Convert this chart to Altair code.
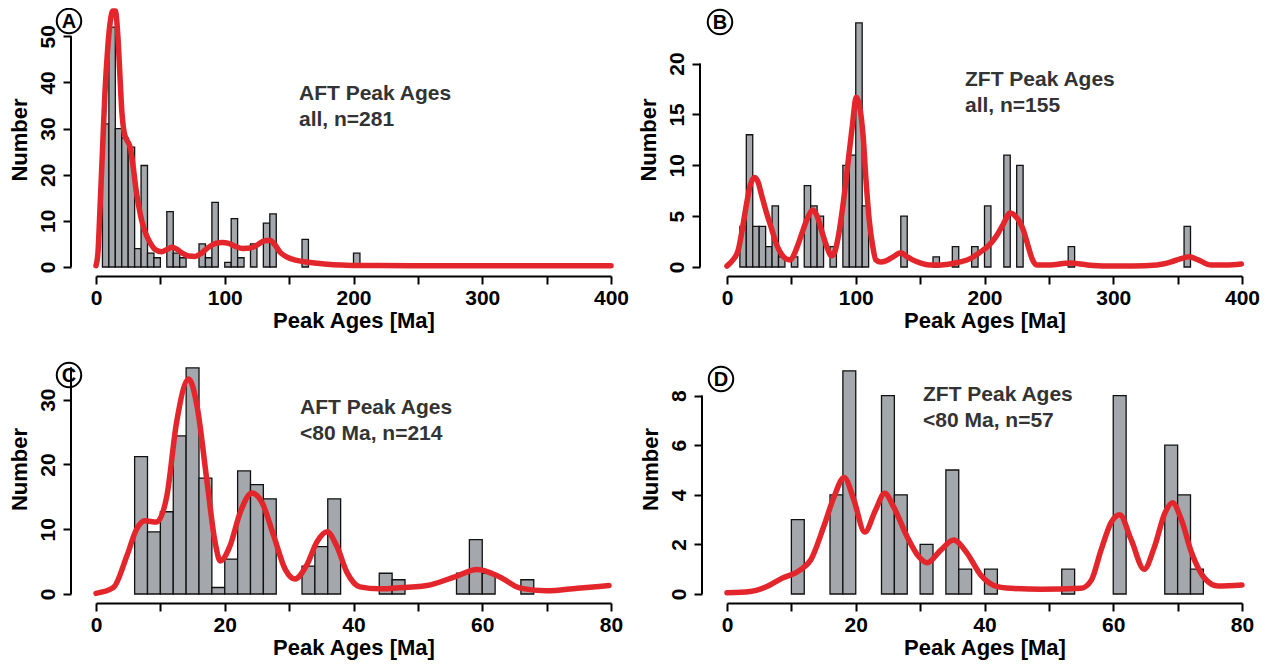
import altair as alt
import pandas as pd

# ---------------- data ----------------
# Panel A: AFT peak ages, all (bin width 5 Ma)
A_bin = [5, 10, 15, 20, 25, 30, 35, 40, 45, 55, 60, 65, 80, 85, 90, 100, 105, 110, 120, 130, 135, 160, 200]
A_cnt = [31, 52, 30, 28, 26, 4, 22, 3, 2, 12, 3, 2, 5, 2, 14, 1, 10.5, 2, 5, 9.5, 11.5, 6, 3]
A_cx = [0, 1.5, 3, 5, 7, 9, 11, 13, 15, 17, 18.5, 20, 22, 24, 26.5, 29, 31, 33, 36, 39, 42, 46, 51, 55, 59, 63,
        67, 72, 77, 82, 87, 93, 98, 103, 108, 114, 120, 126, 131, 135, 139, 143, 148, 155, 163, 172, 182, 195,
        220, 260, 300, 350, 400]
A_cy = [0.3, 3, 12, 25, 38, 47, 53, 55.5, 55.5, 50, 42, 34, 29, 27.5, 26, 21.5, 17, 13.5, 9.5, 7, 5.3, 3.8, 3.3,
        3.8, 4.3, 3.8, 3, 2.4, 2.3, 3, 4.2, 5.1, 5.3, 5.1, 4.5, 4, 4.1, 4.9, 5.7, 5.8, 4.8, 3.2, 2.2, 1.5, 1.1,
        0.8, 0.55, 0.4, 0.3, 0.25, 0.25, 0.25, 0.25]

# Panel B: ZFT peak ages, all (bin width 5 Ma)
B_bin = [10, 15, 20, 25, 30, 35, 40, 50, 60, 65, 70, 80, 90, 95, 100, 105, 135, 160, 175, 190, 200, 215, 225, 265, 355]
B_cnt = [4, 13, 4, 4, 2, 6, 1, 1, 8, 6, 5, 2, 10, 11, 24, 6, 5, 1, 2, 2, 6, 11, 10, 2, 4]
B_cx = [0, 4, 8.8, 12, 15.3, 18, 21.3, 24, 27, 31, 34.8, 38.5, 42.7, 46, 49.2, 52, 55.7, 59, 62.2, 66.9, 70, 73.9,
        77.5, 81.2, 84, 87, 90, 93.4, 97, 100.5, 103, 105.7, 108, 110.4, 113, 115.6, 119, 123.4, 129, 135, 140,
        144.2, 150, 157, 165, 173, 181, 188.5, 196, 204, 210, 214.5, 219.8, 224, 230, 234, 237, 240.6, 250,
        266.6, 280, 295, 315, 334, 345, 352, 359, 366, 376, 388, 399.5]
B_cy = [0.1, 0.6, 1.7, 3.8, 6.3, 8, 8.8, 8.4, 7, 5.2, 3.7, 2.2, 1.2, 0.8, 0.7, 1.2, 2.4, 3.6, 4.7, 5.6, 5, 3.4,
        2, 1.1, 1.6, 3.4, 6, 9.6, 13.5, 16.7, 15.8, 12.9, 8.5, 4.7, 2.2, 0.7, 0.5, 0.6, 1, 1.4, 1, 0.7, 0.4,
        0.2, 0.2, 0.3, 0.5, 0.8, 1.4, 2.2, 3.2, 4.2, 5.3, 5, 3.7, 2, 0.8, 0.2, 0.2, 0.4, 0.2, 0.1, 0.1, 0.2,
        0.5, 0.8, 1, 0.7, 0.2, 0.2, 0.3]

# Panel C: AFT peak ages < 80 Ma (bin width 2 Ma)
C_bin = [6, 8, 10, 12, 14, 16, 18, 20, 22, 24, 26, 32, 34, 36, 44, 46, 56, 58, 60, 66]
C_cnt = [21.2, 9.6, 12.7, 24.4, 34.9, 17.9, 1, 5.4, 19, 16.9, 14.7, 4.3, 7.3, 14.7, 3.2, 2.2, 3.2, 8.4, 3.2, 2.2]
C_cx = [0, 2.7, 4.8, 6.3, 7.6, 9.4, 11, 12.5, 14.4, 15.7, 17.2, 18.5, 19.3, 20.8, 22.4, 24.2, 25.8, 27.6, 29.4,
        30.9, 32.7, 34.3, 35.9, 37.4, 39, 41, 44, 46.2, 51.4, 55.6, 59.2, 62.8, 65.9, 70, 74.8, 79.7]
C_cy = [0.1, 1, 5.9, 10, 11.3, 11.1, 15.1, 26.4, 33.2, 29, 17.7, 8, 5.1, 7.4, 12.6, 15.6, 14.1, 9, 3.8, 2.3, 4.4,
        8, 9.6, 7.4, 3.3, 1.1, 0.8, 0.9, 1.3, 2.6, 3.8, 2.6, 0.9, 0.5, 0.9, 1.3]

# Panel D: ZFT peak ages < 80 Ma (bin width 2 Ma)
D_bin = [10, 16, 18, 24, 26, 30, 34, 36, 40, 52, 60, 68, 70, 72]
D_cnt = [3, 4, 9, 8, 4, 2, 5, 1, 1, 1, 8, 6, 4, 1]
D_cx = [0, 3.6, 6.2, 8.5, 11.4, 13, 15, 16.6, 18.2, 19.7, 21.4, 23.1, 24.5, 25.9, 28, 29.8, 31.1, 33.2, 35.2,
        37.3, 39.4, 42, 44.1, 48.8, 55, 56.6, 58.1, 59.7, 61, 62.8, 64.8, 66.4, 68, 69.2, 70.6, 72.2, 74.2,
        76.3, 80]
D_cy = [0.05, 0.1, 0.3, 0.63, 0.97, 1.37, 2.7, 3.9, 4.7, 3.8, 2.5, 3.4, 4.06, 3.5, 2.3, 1.5, 1.26, 1.77, 2.18,
        1.64, 0.77, 0.3, 0.23, 0.19, 0.23, 0.56, 1.77, 2.9, 3.2, 2.18, 1.0, 1.9, 3.25, 3.68, 2.98, 1.64, 0.63,
        0.32, 0.36]

FONT = "Liberation Sans"
BAR_FILL = "#a4a7ab"
RED = "#e3262b"
TXT = "#333333"


def panel(letter, bins, counts, binw, cx, cy, xmax, xstep, xlabstep, ytop, yticks, ylabstep,
          width, height, yoff, lines, txt_xy, letter_xy):
    bars = pd.DataFrame({"x0": bins, "n": counts})
    curve = pd.DataFrame({"x": cx, "y": cy})
    xticks = list(range(0, xmax + 1, xstep))
    xscale = alt.Scale(domain=[0, xmax], nice=False, zero=False)
    yscale = alt.Scale(domain=[0, ytop], nice=False, zero=True)
    xaxis = alt.Axis(
        values=xticks, labelExpr=f"datum.value % {xlabstep} === 0 ? datum.label : ''",
        title="Peak Ages [Ma]", offset=9, grid=False, domainColor="black", domainWidth=2,
        tickColor="black", tickWidth=2, tickSize=8, labelFont=FONT, labelFontSize=21,
        labelFontWeight="bold", labelColor="black", labelFlush=False, labelOverlap=False,
        labelPadding=3, titleFont=FONT, titleFontSize=22, titleFontWeight="bold",
        titleColor="black", titlePadding=2)
    yaxis = alt.Axis(
        values=yticks, labelExpr=f"datum.value % {ylabstep} === 0 ? datum.label : ''",
        title="Number", offset=yoff, grid=False, domain=False, tickColor="black", tickWidth=2,
        tickSize=8, labelFont=FONT, labelFontSize=21, labelFontWeight="bold", labelColor="black",
        labelAngle=-90, labelAlign="center", labelBaseline="bottom", labelFlush=False,
        labelOverlap=False, labelPadding=5, titleFont=FONT, titleFontSize=22,
        titleFontWeight="bold", titleColor="black", titlePadding=6)

    bar = alt.Chart(bars).transform_calculate(x1=f"datum.x0 + {binw}").mark_bar(
        fill=BAR_FILL, stroke="#111111", strokeWidth=1.3
    ).encode(
        x=alt.X("x0:Q", scale=xscale, axis=xaxis),
        x2="x1:Q",
        y=alt.Y("n:Q", scale=yscale, axis=yaxis),
        y2=alt.datum(0),
    )
    line = alt.Chart(curve).mark_line(color=RED, strokeWidth=5.5, interpolate="monotone",
                                      strokeCap="round", strokeJoin="round").encode(
        x=alt.X("x:Q", scale=xscale), y=alt.Y("y:Q", scale=yscale), order="x:Q")
    axline = alt.Chart(pd.DataFrame({"a": [0], "b": [yticks[-1]]})).mark_rule(
        color="black", strokeWidth=2).encode(
        x=alt.value(-yoff), y=alt.Y("a:Q", scale=yscale), y2="b:Q")
    ann1 = alt.Chart(pd.DataFrame({"t": [lines[0]]})).mark_text(
        font=FONT, fontSize=21, fontWeight="bold", color=TXT, align="left", baseline="middle"
    ).encode(text="t:N", x=alt.value(txt_xy[0]), y=alt.value(txt_xy[1]))
    ann2 = alt.Chart(pd.DataFrame({"t": [lines[1]]})).mark_text(
        font=FONT, fontSize=21, fontWeight="bold", color=TXT, align="left", baseline="middle"
    ).encode(text="t:N", x=alt.value(txt_xy[0]), y=alt.value(txt_xy[1] + 26))
    circ = alt.Chart(pd.DataFrame({"l": [letter]})).mark_point(
        shape="circle", filled=False, color="black", strokeWidth=2, size=600, opacity=1
    ).encode(x=alt.value(letter_xy[0]), y=alt.value(letter_xy[1]))
    let = alt.Chart(pd.DataFrame({"l": [letter]})).mark_text(
        font=FONT, fontSize=20, fontWeight="bold", color="black", align="center", baseline="middle"
    ).encode(text="l:N", x=alt.value(letter_xy[0]), y=alt.value(letter_xy[1] + 1))
    return alt.layer(bar, line, axline, ann1, ann2, circ, let).properties(width=width, height=height)


pA = panel("A", A_bin, A_cnt, 5, A_cx, A_cy, 400, 50, 100, 55.27, list(range(0, 51, 10)), 10,
           515, 255, 25, ["AFT Peak Ages", "all, n=281"], (203, 82), (-27, 9))
pB = panel("B", B_bin, B_cnt, 5, B_cx, B_cy, 400, 50, 100, 25.07, list(range(0, 21, 5)), 5,
           515, 255, 27, ["ZFT Peak Ages", "all, n=155"], (238, 68), (-7, 10))
pC = panel("C", C_bin, C_cnt, 2, C_cx, C_cy, 80, 10, 20, 38.6, list(range(0, 36, 5)), 10,
           515, 250, 25, ["AFT Peak Ages", "<80 Ma, n=214"], (204, 64), (-27, 31))
pD = panel("D", D_bin, D_cnt, 2, D_cx, D_cy, 80, 10, 20, 10.08, list(range(0, 9, 2)), 2,
           515, 250, 25, ["ZFT Peak Ages", "<80 Ma, n=57"], (196, 51), (-6, 35))

chart = alt.concat(pA, pB, pC, pD, columns=2, spacing={"row": 77, "column": 116},
                   bounds="flush").properties(
    padding={"left": -1, "top": -4, "right": 0, "bottom": 6}
).configure(
    background="white",
    view=alt.ViewConfig(stroke="transparent", strokeWidth=0),
)

chart.save("out.html", embed_options={"renderer": "svg", "actions": False})
